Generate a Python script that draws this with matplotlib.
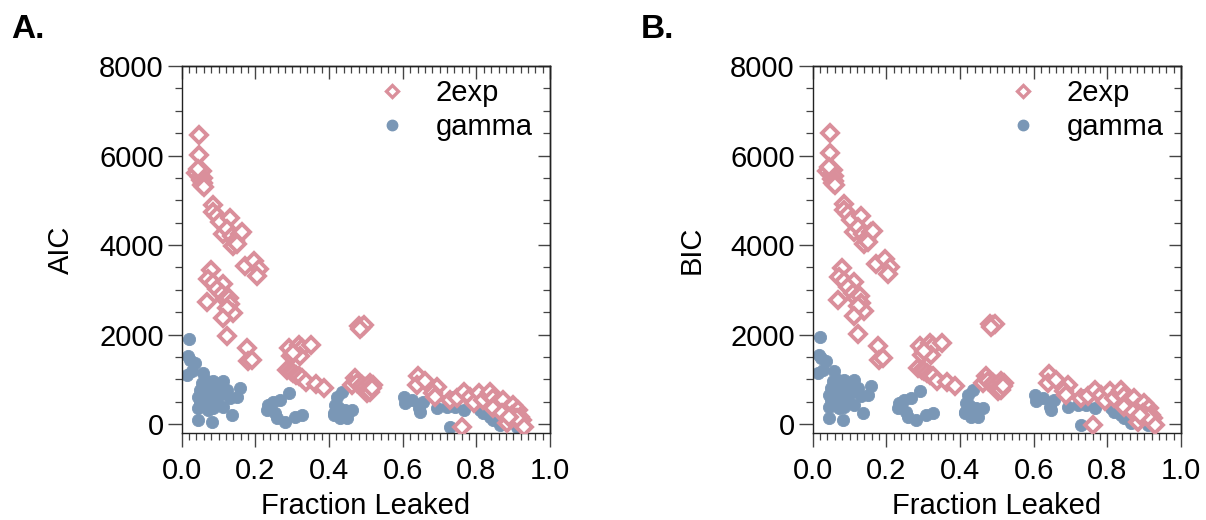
import matplotlib
matplotlib.use("Agg")
import matplotlib.pyplot as plt
from matplotlib.ticker import MultipleLocator, NullFormatter
from matplotlib.lines import Line2D

plt.rcParams['font.family'] = ['Liberation Sans', 'DejaVu Sans']

# ---- Panel A: AIC vs fraction leaked ----
a_2exp_x = [0.047, 0.047, 0.043, 0.048, 0.054, 0.039, 0.050, 0.057, 0.052, 0.059, 0.055, 0.061, 0.045,
            0.086, 0.084, 0.097, 0.104, 0.131, 0.113, 0.122, 0.136, 0.158, 0.145, 0.138, 0.149, 0.163,
            0.172, 0.197, 0.210, 0.204, 0.080, 0.072, 0.086, 0.113, 0.095, 0.109, 0.118, 0.127, 0.131,
            0.140, 0.122, 0.111, 0.068, 0.122, 0.178, 0.181, 0.190,
            0.292, 0.317, 0.326, 0.350, 0.296, 0.321, 0.303, 0.285, 0.296, 0.303, 0.310, 0.317, 0.326,
            0.338, 0.364, 0.385,
            0.480, 0.489, 0.495, 0.484, 0.471, 0.462, 0.475, 0.489, 0.498, 0.507, 0.511, 0.520, 0.502,
            0.510, 0.516,
            0.640, 0.638, 0.661, 0.692, 0.683, 0.688, 0.727, 0.747, 0.765, 0.760, 0.783, 0.792, 0.808,
            0.819, 0.833, 0.837, 0.846, 0.855, 0.864, 0.873, 0.882, 0.891, 0.900, 0.905, 0.914, 0.919,
            0.923, 0.928, 0.882, 0.896, 0.909, 0.846, 0.869, 0.887]
a_2exp_y = [6456, 6022, 5632, 5595, 5647, 5618, 5520, 5498, 5445, 5393, 5348, 5295, 5707,
            4883, 4734, 4659, 4509, 4599, 4247, 4359, 4209, 4247, 4097, 3985, 4022, 4284,
            3535, 3648, 3460, 3311, 3438, 3251, 3161, 3123, 3011, 2899, 2786, 2824, 2674,
            2487, 2599, 2374, 2726, 1962, 1700, 1401, 1438,
            1700, 1775, 1700, 1760, 1513, 1513, 1588, 1213, 1176, 1138, 1101, 1064, 1026,
            929, 899, 816,
            2187, 2172, 2202, 2127, 1026, 876, 914, 876, 839, 801, 914, 876, 689,
            727, 801,
            1079, 876, 951, 839, 689, 614, 539, 577, 727, -60, 614, 464, 704,
            539, 652, 727, 577, 464, 389, 539, 315, 352, 427, 240, 315, 165,
            90, -60, 15, 202, 127, 352, 240, 165]

a_gamma_x = [0.021, 0.018, 0.023, 0.036, 0.015, 0.027, 0.059, 0.054, 0.068, 0.086, 0.113, 0.050,
             0.077, 0.100, 0.122, 0.045, 0.063, 0.090, 0.104, 0.131, 0.158, 0.149, 0.072, 0.095,
             0.050, 0.045, 0.072, 0.086, 0.113, 0.043, 0.081, 0.136, 0.068, 0.109, 0.077,
             0.240, 0.249, 0.267, 0.290, 0.231, 0.253, 0.258, 0.281, 0.308, 0.326, 0.235, 0.290,
             0.434, 0.421, 0.416, 0.412, 0.430, 0.443, 0.462, 0.448, 0.430, 0.412, 0.425,
             0.602, 0.624, 0.606, 0.656, 0.643, 0.647, 0.692, 0.719, 0.738, 0.742, 0.765, 0.729,
             0.810, 0.819, 0.837, 0.855, 0.864, 0.891, 0.909, 0.919, 0.846, 0.792]
a_gamma_y = [1902, 1513, 1438, 1363, 1101, 1176, 1138, 914, 951, 951, 951, 764,
             764, 801, 764, 614, 614, 614, 652, 577, 801, 614, 464, 464,
             502, 352, 315, 352, 389, 90, 52, 202, 689, 727, 876,
             352, 502, 539, 689, 315, 240, 127, 52, 165, 202, 427, 1213,
             727, 614, 427, 240, 277, 315, 315, 127, 127, 202, 389,
             614, 539, 464, 502, 352, 277, 352, 389, 614, 389, 315, -60,
             315, 240, 165, 240, -22, 90, -60, 15, 90, 464]

# ---- Panel B: BIC vs fraction leaked ----
b_2exp_x = list(a_2exp_x)
b_2exp_y = [6496, 6062, 5672, 5635, 5687, 5658, 5560, 5538, 5485, 5433, 5388, 5335, 5747,
            4923, 4774, 4699, 4549, 4639, 4287, 4399, 4249, 4287, 4137, 4025, 4062, 4324,
            3575, 3688, 3500, 3351, 3478, 3291, 3201, 3163, 3051, 2939, 2826, 2864, 2714,
            2527, 2639, 2414, 2766, 2002, 1740, 1441, 1478,
            1740, 1815, 1740, 1800, 1553, 1553, 1628, 1253, 1216, 1178, 1141, 1104, 1066,
            969, 939, 856,
            2227, 2212, 2242, 2167, 1066, 916, 954, 916, 879, 841, 954, 916, 729,
            767, 841,
            1119, 916, 991, 879, 729, 654, 579, 617, 767, -20, 654, 504, 744,
            579, 692, 767, 617, 504, 429, 579, 355, 392, 467, 280, 355, 205,
            130, -20, 55, 242, 167, 392, 280, 205]

b_gamma_x = list(a_gamma_x)
b_gamma_y = [1942, 1553, 1478, 1403, 1141, 1216, 1178, 954, 991, 991, 991, 804,
             804, 841, 804, 654, 654, 654, 692, 617, 841, 654, 504, 504,
             542, 392, 355, 392, 429, 130, 92, 242, 729, 767, 916,
             392, 542, 579, 729, 355, 280, 167, 92, 205, 242, 467, 1253,
             767, 654, 467, 280, 317, 355, 355, 167, 167, 242, 429,
             654, 579, 504, 542, 392, 317, 392, 429, 654, 429, 355, -20,
             355, 280, 205, 280, 18, 130, -20, 55, 130, 504]

x_ticks = [0.0, 0.2, 0.4, 0.6, 0.8, 1.0]
x_tick_labels = ['0.0', '0.2', '0.4', '0.6', '0.8', '1.0']
y_ticks = [0, 2000, 4000, 6000, 8000]
series_names = ['2exp', 'gamma']

PINK = '#da8f9b'
BLUE = '#7a97b6'
FS = 21

fig = plt.figure(figsize=(12.06, 5.2), dpi=100)
ax_a = fig.add_axes([0.1507, 0.1673, 0.3055, 0.7058])
ax_b = fig.add_axes([0.6739, 0.1673, 0.3055, 0.7058])


def style_axes(ax, ylabel):
    ax.set_xlim(0, 1.0)
    ax.set_ylim(-200, 8000)
    ax.set_xticks(x_ticks)
    ax.set_xticklabels(x_tick_labels)
    ax.set_yticks(y_ticks)
    ax.xaxis.set_minor_locator(MultipleLocator(0.02))
    ax.yaxis.set_minor_locator(MultipleLocator(500))
    ax.tick_params(which='major', direction='out', length=10, width=1.0,
                   color='#444444', labelsize=FS, pad=7)
    ax.tick_params(which='minor', direction='out', length=5, width=0.9, color='#444444')
    ax.tick_params(axis='y', which='major', pad=3)
    for s in ax.spines.values():
        s.set_linewidth(1.0)
        s.set_color('#222222')
    # mirrored axes with inward ticks on top and right
    top = ax.secondary_xaxis('top')
    top.set_xticks(x_ticks)
    top.xaxis.set_minor_locator(MultipleLocator(0.02))
    top.xaxis.set_major_formatter(NullFormatter())
    top.tick_params(which='major', direction='in', length=9, width=1.0, color='#444444')
    top.tick_params(which='minor', direction='in', length=5, width=0.9, color='#444444')
    top.spines['top'].set_linewidth(1.0)
    right = ax.secondary_yaxis('right')
    right.set_yticks(y_ticks)
    right.yaxis.set_minor_locator(MultipleLocator(500))
    right.yaxis.set_major_formatter(NullFormatter())
    right.tick_params(which='major', direction='in', length=9, width=1.0, color='#444444')
    right.tick_params(which='minor', direction='in', length=5, width=0.9, color='#444444')
    right.spines['right'].set_linewidth(1.0)
    ax.set_xlabel('Fraction Leaked', fontsize=FS, labelpad=5)
    ax.set_ylabel(ylabel, fontsize=FS)
    ax.yaxis.set_label_coords(-0.29, 0.5)


def draw(ax, gx, gy, ex, ey, ylabel):
    ax.plot(gx, gy, linestyle='none', marker='o', markersize=8.8,
            markerfacecolor=BLUE, markeredgecolor=BLUE, markeredgewidth=0.6, zorder=2)
    ax.plot(ex, ey, linestyle='none', marker='D', markersize=8.3,
            markerfacecolor='white', markeredgecolor=PINK, markeredgewidth=2.8, zorder=3)
    style_axes(ax, ylabel)
    handles = [
        Line2D([], [], linestyle='none', marker='D', markersize=6.5, markerfacecolor='white',
               markeredgecolor=PINK, markeredgewidth=2.4),
        Line2D([], [], linestyle='none', marker='o', markersize=7.5, markerfacecolor=BLUE,
               markeredgecolor=BLUE),
    ]
    ax.legend(handles, series_names, loc='upper right', frameon=False, fontsize=FS,
              handlelength=1.0, handletextpad=1.0, labelspacing=0.2,
              borderaxespad=0.0, bbox_to_anchor=(0.985, 0.995))


draw(ax_a, a_gamma_x, a_gamma_y, a_2exp_x, a_2exp_y, 'AIC')
draw(ax_b, b_gamma_x, b_gamma_y, b_2exp_x, b_2exp_y, 'BIC')

fig.text(0.009, 0.927, 'A.', fontsize=24, fontweight='bold', va='baseline')
fig.text(0.531, 0.927, 'B.', fontsize=24, fontweight='bold', va='baseline')

fig.savefig('out.png', dpi=100)
